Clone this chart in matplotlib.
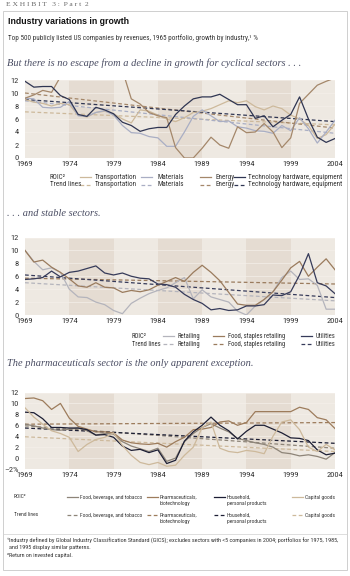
import matplotlib
matplotlib.use("Agg")
import matplotlib.pyplot as plt
from matplotlib.lines import Line2D
from matplotlib.patches import Rectangle
import logging
logging.getLogger('matplotlib.font_manager').setLevel(logging.ERROR)

W, H = 350, 576
NARROW = ['Roboto Condensed', 'PT Sans Narrow', 'Archivo Narrow',
          'Liberation Sans Narrow', 'Liberation Sans', 'DejaVu Sans']
SERIF = ['Liberation Serif', 'DejaVu Serif']

years = list(range(1969, 2005))
xticks = [1969, 1974, 1979, 1984, 1989, 1994, 1999, 2004]
trend_years = [1969, 2004]

# ---- Panel 1: cyclical sectors ----
transportation = [9.0, 8.6, 8.4, 8.0, 8.4, 8.2, 6.6, 6.3, 7.0, 7.2, 6.8, 6.0, 5.4,
                  7.4, 7.2, 6.6, 6.0, 5.6, 6.2, 7.0, 7.2, 7.6, 8.2, 8.8, 8.5, 8.8,
                  7.9, 7.4, 8.0, 7.6, 6.6, 6.0, 5.0, 3.0, 3.6, 5.2]
materials = [9.2, 9.1, 7.8, 7.7, 7.8, 8.7, 6.5, 6.4, 7.0, 7.3, 6.6, 5.0, 3.9, 3.8,
             3.3, 3.1, 1.8, 1.8, 4.0, 6.4, 7.4, 6.5, 5.6, 5.7, 4.8, 4.6, 4.2, 4.1,
             3.8, 5.0, 4.2, 6.2, 4.5, 2.3, 4.0, 5.8]
energy = [9.2, 9.7, 10.4, 10.1, 12.5, 15, 15, 15, 15, 15, 15, 13.5, 9.1, 8.3, 7.0,
          6.5, 6.2, 1.6, 0.0, 0.0, 1.5, 3.2, 2.0, 1.5, 4.8, 3.9, 4.0, 5.3, 4.0,
          1.6, 3.1, 8.4, 9.8, 11.2, 11.8, 12.3]
tech_hw = [11.8, 10.9, 11.0, 11.0, 9.6, 9.0, 6.7, 6.4, 7.8, 7.4, 6.8, 5.5, 5.0,
           4.1, 4.5, 4.7, 4.7, 6.7, 8.0, 9.1, 9.4, 9.4, 9.8, 9.0, 8.2, 8.2, 6.1,
           6.5, 4.8, 5.8, 6.7, 9.4, 6.0, 3.2, 2.4, 3.0]
transportation_trend = [7.1, 5.1]
materials_trend = [8.8, 3.8]
energy_trend = [10.0, 4.6]
tech_hw_trend = [9.0, 5.6]

# ---- Panel 2: stable sectors ----
retailing = [10.0, 8.3, 7.0, 7.3, 6.6, 4.0, 2.8, 2.7, 2.0, 1.6, 0.7, 0.2,
             1.8, 2.6, 3.3, 3.8, 4.2, 5.0, 5.8, 2.5, 3.9, 2.8, 2.4, 2.0,
             0.6, 0.0, 1.4, 2.4, 3.6, 5.8, 6.8, 5.5, 5.6, 4.6, 0.9, 0.9]
food_staples = [10.0, 8.2, 8.5, 7.4, 6.6, 5.6, 4.5, 4.3, 5.0, 4.3, 4.2, 3.5,
                3.8, 3.6, 3.9, 4.6, 5.2, 5.8, 5.2, 6.6, 7.7, 6.6, 5.3, 3.5,
                1.7, 1.5, 1.5, 2.4, 3.6, 5.4, 7.3, 8.3, 6.0, 7.4, 8.7, 7.0]
utilities = [5.5, 5.6, 5.8, 6.8, 5.9, 6.6, 6.8, 7.2, 7.6, 6.5, 6.2, 6.5,
             6.0, 5.7, 5.6, 4.8, 4.7, 4.3, 3.2, 2.4, 1.8, 0.8, 1.0, 0.7,
             0.8, 1.4, 1.4, 1.6, 3.1, 3.0, 3.6, 6.2, 9.5, 5.0, 4.5, 3.3]
retailing_trend = [5.0, 2.2]
food_staples_trend = [5.7, 4.8]
utilities_trend = [6.2, 2.7]

# ---- Panel 3: pharmaceuticals exception ----
food_bev = [6.2, 5.9, 5.5, 5.2, 5.1, 5.3, 5.5, 5.0, 4.2, 4.5, 4.4, 3.0,
            2.2, 1.7, 1.2, 1.8, -0.6, 0.0, 3.0, 4.5, 5.6, 6.3, 5.5, 4.8,
            3.6, 3.2, 2.8, 2.5, 2.0, 1.0, 0.8, 0.4, 0.6, 0.3, -0.2, 1.0]
pharma = [10.9, 11.0, 10.5, 8.9, 10.0, 7.3, 5.8, 5.3, 4.8, 4.8, 4.6, 3.3,
          2.8, 2.6, 2.5, 2.7, 2.0, 3.0, 3.8, 5.2, 5.3, 5.6, 6.6, 6.8,
          6.0, 6.5, 8.5, 8.5, 8.5, 8.5, 8.5, 9.3, 8.9, 7.4, 7.0, 5.4]
household = [8.4, 8.3, 7.2, 5.6, 5.6, 5.5, 5.5, 5.2, 4.2, 4.3, 3.8, 2.2,
             1.4, 1.6, 1.0, 1.5, -1.0, -0.4, 3.1, 4.8, 6.0, 7.5, 6.0, 5.0,
             3.5, 4.9, 6.0, 6.0, 5.3, 4.6, 3.7, 3.6, 3.2, 1.5, 0.6, 0.9]
capital_goods = [9.2, 7.5, 6.2, 5.0, 4.5, 3.8, 1.2, 2.5, 3.4, 3.8, 4.6, 2.3,
                 0.5, -0.8, -1.2, -0.8, -1.5, -1.3, 0.5, 2.0, 5.6, 6.6, 1.8, 1.2,
                 1.0, 1.4, 1.2, 0.8, 4.0, 6.6, 7.0, 5.2, 2.0, 1.2, 2.5, 1.5]
food_bev_trend = [5.9, 1.8]
pharma_trend = [6.2, 6.5]
household_trend = [5.5, 2.7]
capital_goods_trend = [3.9, 1.2]

C_TRANS = '#cdb99b'
C_MAT = '#a9aec4'
C_ENERGY = '#a4876a'
C_TECH = '#2f3552'
C_RET = '#b4b4bc'
C_FOOD = '#9a7b5d'
C_UTIL = '#363b5a'
C_FBT = '#8d8478'
C_PHARMA = '#9d7c5c'
C_HOUSE = '#1c1e34'
C_CAP = '#cdb99b'

BG = '#eee9e2'
BAND = '#e5dcd2'
TXT = '#333333'

fig = plt.figure(figsize=(W / 100, H / 100), dpi=100)
fig.patch.set_facecolor('white')


def fx(x):
    return x / W


def fy(y):
    return 1 - y / H


def ftext(x, y, s, **kw):
    kw.setdefault('va', 'center')
    kw.setdefault('ha', 'left')
    kw.setdefault('color', TXT)
    fig.text(fx(x), fy(y), s, **kw)


# outer box
fig.add_artist(Rectangle((fx(3), fy(570)), fx(344), (570 - 11) / H,
                         transform=fig.transFigure, fill=False,
                         edgecolor='#c8c8c8', linewidth=0.6))
fig.add_artist(Line2D([fx(3), fx(347)], [fy(534), fy(534)],
                      transform=fig.transFigure, color='#d0d0d0', lw=0.5))

ftext(6, 5, 'E X H I B I T   3 :  P a r t  2', fontsize=5.4, family=SERIF,
      color='#666666')
ftext(8, 21, 'Industry variations in growth', fontsize=6.3, weight='bold',
      family=['Liberation Sans', 'DejaVu Sans'], color='#111111')
ftext(8, 38, 'Top 500 publicly listed US companies by revenues, 1965 portfolio, '
      'growth by industry,\u00b9 %', fontsize=5.1, family=NARROW)

HEAD_KW = dict(fontsize=7.5, family=SERIF, style='italic', color='#4a4d63')
ftext(7, 63, 'But there is no escape from a decline in growth for cyclical sectors . . .',
      **HEAD_KW)
ftext(7, 214, '. . . and stable sectors.', **HEAD_KW)
ftext(7, 364, 'The pharmaceuticals sector is the only apparent exception.', **HEAD_KW)

TICK_FS = 6.1


def make_ax(top, bottom, ymin, ymax, yticks, ylabels):
    ax = fig.add_axes([fx(25), fy(bottom), fx(310), (bottom - top) / H])
    ax.set_xlim(1969, 2004)
    ax.set_ylim(ymin, ymax)
    ax.set_facecolor(BG)
    for a in (1974, 1984, 1994):
        ax.axvspan(a, a + 5, color=BAND, lw=0, zorder=0)
    for v in yticks:
        ax.axhline(v, color='#f4f0ea', lw=0.5, zorder=0.5)
    for s in ax.spines.values():
        s.set_visible(False)
    ax.set_xticks(xticks)
    ax.set_xticklabels([str(t) for t in xticks], fontsize=TICK_FS, family=NARROW,
                       color=TXT)
    ax.set_yticks(yticks)
    ax.set_yticklabels(ylabels, fontsize=TICK_FS, family=NARROW, color=TXT)
    ax.tick_params(axis='both', length=0)
    ax.tick_params(axis='y', pad=4.3)
    ax.tick_params(axis='x', pad=2.3)
    return ax


def draw(ax, series, trends, colors):
    for t, c in zip(trends, colors):
        ax.plot(trend_years, t, color=c, lw=0.9, ls=(0, (3, 2)), zorder=2)
    for s, c in zip(series, colors):
        ax.plot(years, s, color=c, lw=0.9, zorder=3)


yt = [0, 2, 4, 6, 8, 10, 12]
ax1 = make_ax(80, 158, 0, 12, yt, [str(v) for v in yt])
draw(ax1, [transportation, materials, energy, tech_hw],
     [transportation_trend, materials_trend, energy_trend, tech_hw_trend],
     [C_TRANS, C_MAT, C_ENERGY, C_TECH])

ax2 = make_ax(237.5, 315, 0, 12, yt, [str(v) for v in yt])
draw(ax2, [retailing, food_staples, utilities],
     [retailing_trend, food_staples_trend, utilities_trend],
     [C_RET, C_FOOD, C_UTIL])

yt3 = [-2, 0, 2, 4, 6, 8, 10, 12]
ax3 = make_ax(392.5, 469, -2, 12, yt3,
              ['\u20132%'] + [str(v) for v in yt3[1:]])
draw(ax3, [food_bev, pharma, household, capital_goods],
     [food_bev_trend, pharma_trend, household_trend, capital_goods_trend],
     [C_FBT, C_PHARMA, C_HOUSE, C_CAP])


def legend_row(y, label_x, label, entries, dashed, fs, dy=6.5):
    ftext(label_x, y, label, fontsize=fs, family=NARROW)
    for lx, tx, c, name in entries:
        fig.add_artist(Line2D([fx(lx), fx(lx + 11)], [fy(y), fy(y)],
                              transform=fig.transFigure, color=c, lw=0.9,
                              ls=(0, (3, 2)) if dashed else '-'))
        lines = name.split('\n')
        for i, ln in enumerate(lines):
            ftext(tx, y + i * dy, ln, fontsize=fs, family=NARROW)


ent1 = [(80, 95, C_TRANS, 'Transportation'), (141, 157, C_MAT, 'Materials'),
        (200, 215, C_ENERGY, 'Energy'),
        (234, 248, C_TECH, 'Technology hardware, equipment')]
legend_row(177, 50, 'ROIC\u00b2', ent1, False, 5.1)
legend_row(185, 50, 'Trend lines', ent1, True, 5.1)

ent2 = [(163, 178, C_RET, 'Retailing'), (213, 228, C_FOOD, 'Food, staples retailing'),
        (301, 316, C_UTIL, 'Utilities')]
legend_row(336, 132, 'ROIC\u00b2', ent2, False, 4.8)
legend_row(344, 132, 'Trend lines', ent2, True, 4.8)

ent3 = [(67, 80, C_FBT, 'Food, beverage, and tobacco'),
        (147, 160, C_PHARMA, 'Pharmaceuticals,\nbiotechnology'),
        (214, 227, C_HOUSE, 'Household,\npersonal products'),
        (292, 305, C_CAP, 'Capital goods')]
legend_row(497, 14, 'ROIC\u00b2', ent3, False, 4.0, 6.0)
legend_row(515, 14, 'Trend lines', ent3, True, 4.0, 6.0)

FN_FS = 4.4
ftext(7, 541, '\u00b9Industry defined by Global Industry Classification Standard (GICS); '
      'excludes sectors with <5 companies in 2004; portfolios for 1975, 1985,',
      fontsize=FN_FS, family=NARROW)
ftext(9, 548, 'and 1995 display similar patterns.', fontsize=FN_FS, family=NARROW)
ftext(7, 555, '\u00b2Return on invested capital.', fontsize=FN_FS, family=NARROW)

fig.savefig('out.png', dpi=100, facecolor='white')
